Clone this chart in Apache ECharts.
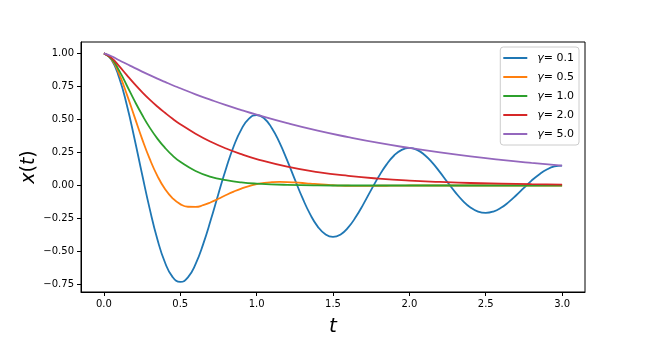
<!DOCTYPE html>
<html><head><meta charset="utf-8">
<script src="https://cdn.jsdelivr.net/npm/echarts@6/dist/echarts.min.js"></script>
<style>html,body{margin:0;padding:0;background:#fff}#c{width:650px;height:349px}</style>
</head><body><div id="c"></div>
<script>
const seriesNames = ['γ = 0.1', 'γ = 0.5', 'γ = 1.0', 'γ = 2.0', 'γ = 5.0'];
const gammaLabels = ['0.1', '0.5', '1.0', '2.0', '5.0'];
const xTicks = [0.0, 0.5, 1.0, 1.5, 2.0, 2.5, 3.0];
const yTicks = [-0.75, -0.5, -0.25, 0.0, 0.25, 0.5, 0.75, 1.0];

const tOsc = [0,0.05,0.1,0.15,0.2,0.25,0.3,0.35,0.4,0.45,0.5,0.55,0.6,0.65,0.7,0.75,0.8,0.85,0.9,0.95,
  1.0,1.05,1.1,1.15,1.2,1.25,1.3,1.35,1.4,1.45,1.5,1.55,1.6,1.65,1.7,1.75,1.8,1.85,1.9,1.95,
  2.0,2.05,2.1,2.15,2.2,2.25,2.3,2.35,2.4,2.45,2.5,2.55,2.6,2.65,2.7,2.75,2.8,2.85,2.9,2.95,3.0];
const tSmooth = [0,0.05,0.1,0.15,0.2,0.25,0.3,0.35,0.4,0.45,0.5,0.6,0.7,0.8,0.9,1.0,1.2,1.4,1.6,1.8,2.0,2.2,2.4,2.6,2.8,3.0];

const xG01 = [1, 0.952, 0.815, 0.609, 0.356, 0.085, -0.177, -0.407, -0.583, -0.693, -0.730, -0.695, -0.595, -0.444, -0.260, -0.062, 0.129, 0.297, 0.425, 0.506,
  0.533, 0.507, 0.434, 0.324, 0.190, 0.046, -0.094, -0.217, -0.311, -0.369, -0.389, -0.370, -0.317, -0.237, -0.139, -0.033, 0.069, 0.158, 0.227, 0.270,
  0.284, 0.270, 0.231, 0.173, 0.101, 0.024, -0.050, -0.116, -0.166, -0.197, -0.207, -0.197, -0.169, -0.126, -0.074, -0.018, 0.037, 0.084, 0.121, 0.144, 0.151];
const xG05 = [1, 0.956, 0.843, 0.690, 0.521, 0.353, 0.201, 0.073, -0.027, -0.097, -0.141, -0.161, -0.162, -0.149, -0.127, -0.100, -0.072, -0.046, -0.023, -0.004,
  0.010, 0.020, 0.025, 0.027, 0.026, 0.023, 0.019, 0.014, 0.010, 0.006, 0.002, -0.001, -0.002, -0.003, -0.003, -0.003, -0.002, -0.002, -0.001, -0.001,
  0, 0, 0, 0, 0, 0, 0, 0, 0, 0, 0, 0, 0, 0, 0, 0, 0, 0, 0, 0, 0];
const xG10 = [1, 0.960, 0.869, 0.757, 0.642, 0.535, 0.438, 0.355, 0.285, 0.226, 0.179, 0.110, 0.066, 0.040, 0.023, 0.014, 0.005, 0.001, 0, 0, 0, 0, 0, 0, 0, 0];
const xG20 = [1, 0.966, 0.903, 0.835, 0.769, 0.707, 0.650, 0.598, 0.550, 0.505, 0.464, 0.392, 0.331, 0.280, 0.237, 0.200, 0.143, 0.102, 0.073, 0.052, 0.037, 0.027, 0.019, 0.014, 0.010, 0.007];
const xG50 = [1, 0.978, 0.948, 0.919, 0.890, 0.862, 0.835, 0.809, 0.784, 0.759, 0.736, 0.690, 0.648, 0.608, 0.571, 0.536, 0.472, 0.415, 0.366, 0.322, 0.284, 0.250, 0.220, 0.194, 0.171, 0.150];

const colors = ['#1f77b4', '#ff7f0e', '#2ca02c', '#d62728', '#9467bd'];
const FONT = 'DejaVu Sans';

function pairs(ts, vs) { return ts.map((t, i) => [t, vs[i]]); }
const seriesData = [pairs(tOsc, xG01), pairs(tOsc, xG05), pairs(tSmooth, xG10), pairs(tSmooth, xG20), pairs(tSmooth, xG50)];

const chart = echarts.init(document.getElementById('c'), null, {renderer: 'canvas'});
const fmtY = v => v.toFixed(2).replace('-', '\u2212');
chart.setOption({
  animation: false,
  backgroundColor: '#fff',
  grid: {left: 81, right: 65, top: 42, bottom: 57, show: true, borderColor: '#000', borderWidth: 1, backgroundColor: 'transparent'},
  xAxis: {
    type: 'value', min: -0.15, max: 3.15,
    axisLine: {show: true, onZero: false, lineStyle: {color: '#000', width: 1}},
    axisTick: {show: true, length: 4, lineStyle: {color: '#000', width: 1}, customValues: xTicks},
    axisLabel: {margin: 7, color: '#000', fontFamily: FONT, fontSize: 10, customValues: xTicks, formatter: v => v.toFixed(1)},
    splitLine: {show: false},
    name: '{i|t}', nameLocation: 'middle', nameGap: 25, nameMoveOverlap: false,
    nameTextStyle: {rich: {i: {fontFamily: FONT, fontStyle: 'italic', fontSize: 20, color: '#000'}}}
  },
  yAxis: {
    type: 'value', min: -0.806, max: 1.086,
    axisLine: {show: true, onZero: false, lineStyle: {color: '#000', width: 1}},
    axisTick: {show: true, length: 4, lineStyle: {color: '#000', width: 1}, customValues: yTicks},
    axisLabel: {margin: 7, color: '#000', fontFamily: FONT, fontSize: 10, customValues: yTicks, formatter: fmtY},
    splitLine: {show: false},
    name: '{i|x}{n|(}{i|t}{n|)}', nameLocation: 'middle', nameGap: 42, nameRotate: 90, nameMoveOverlap: false,
    nameTextStyle: {rich: {
      i: {fontFamily: FONT, fontStyle: 'italic', fontSize: 19, color: '#000'},
      n: {fontFamily: FONT, fontSize: 19, color: '#000'}
    }}
  },
  legend: {
    orient: 'vertical', right: 71, top: 47,
    padding: [4, 5, 4, 3],
    itemGap: 5,
    itemWidth: 24, itemHeight: 2, icon: 'rect',
    backgroundColor: 'rgba(255,255,255,0.8)', borderColor: '#cccccc', borderWidth: 1, borderRadius: 3,
    data: seriesNames,
    formatter: name => '{g|γ}{n|= ' + gammaLabels[seriesNames.indexOf(name)] + '}',
    textStyle: {
      padding: [0, 0, 0, 5], lineHeight: 14,
      rich: {
        g: {fontFamily: FONT, fontStyle: 'italic', fontSize: 11, color: '#000', lineHeight: 14},
        n: {fontFamily: FONT, fontSize: 11, color: '#000', lineHeight: 14}
      }
    }
  },
  series: seriesNames.map((n, i) => ({
    name: n, type: 'line', data: seriesData[i],
    smooth: 0.5, symbol: 'none', showSymbol: false,
    lineStyle: {color: colors[i], width: 1.8},
    itemStyle: {color: colors[i]},
    emphasis: {disabled: true}
  }))
});
</script></body></html>
